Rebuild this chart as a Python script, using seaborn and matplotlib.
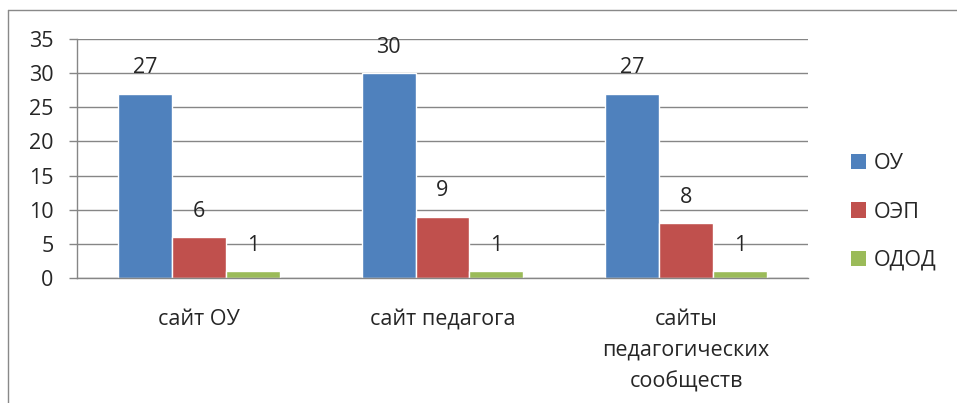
import matplotlib
matplotlib.use("Agg")
import matplotlib.pyplot as plt
import seaborn as sns
import pandas as pd
from matplotlib.patches import Rectangle
from matplotlib.lines import Line2D

categories = ["сайт ОУ", "сайт педагога", "сайты\nпедагогических\nсообществ"]
series = ["ОУ", "ОЭП", "ОДОД"]
values_ou = [27, 30, 27]
values_oep = [6, 9, 8]
values_odod = [1, 1, 1]
colors = ["#4F81BD", "#C0504D", "#9BBB59"]
yticks = [0, 5, 10, 15, 20, 25, 30, 35]

rows = []
for s, vals in zip(series, [values_ou, values_oep, values_odod]):
    for c, v in zip(categories, vals):
        rows.append({"cat": c, "series": s, "value": v})
df = pd.DataFrame(rows)

sns.set_style("white")
plt.rcParams["font.family"] = ["Open Sans", "DejaVu Sans"]

FS = 15.5
W, H = 957, 403
fig = plt.figure(figsize=(W / 100, H / 100), dpi=100)
ax = fig.add_axes([77 / W, (H - 278) / H, (808 - 77) / W, (278 - 39) / H])

sns.barplot(data=df, x="cat", y="value", hue="series", order=categories,
            hue_order=series, palette=colors, width=0.664, gap=0,
            saturation=1, ax=ax, legend=False, errorbar=None)

gray = "#868686"
ax.set_ylim(0, 35)
ax.set_xlim(-0.5, 2.5)
ax.set_yticks(yticks)
ax.set_yticklabels([str(t) for t in yticks], fontsize=FS)
ax.yaxis.grid(True, color=gray, linewidth=1)
ax.set_axisbelow(True)
ax.set_xlabel("")
ax.set_ylabel("")
ax.set_xticks(range(len(categories)))
ax.set_xticklabels(categories, fontsize=FS, linespacing=1.6, va="top")
ax.set_xticks([-0.5, 0.5, 1.5, 2.5], minor=True)
ax.tick_params(axis="x", which="major", length=0, pad=22.5)
ax.tick_params(axis="x", which="minor", length=6, width=1, color=gray, direction="out")
ax.tick_params(axis="y", length=6, width=1, color=gray, direction="out", pad=11, left=True)
for side in ["top", "right"]:
    ax.spines[side].set_visible(False)
for side in ["left", "bottom"]:
    ax.spines[side].set_visible(True)
    ax.spines[side].set_color(gray)
    ax.spines[side].set_linewidth(1)

for cont in ax.containers:
    ax.bar_label(cont, labels=[f"{int(v)}" for v in cont.datavalues],
                 padding=11, fontsize=FS)

handles = [Rectangle((0, 0), 1, 1, facecolor=c, edgecolor="none") for c in colors]
fig.legend(handles, series, loc="center left", bbox_to_anchor=(851 / W, (H - 212) / H),
           frameon=False, fontsize=FS, handlelength=0.7, handleheight=0.7,
           handletextpad=0.35, labelspacing=1.26, borderpad=0, borderaxespad=0)

# outer chart frame
fig.add_artist(Line2D([8 / W, 8 / W], [0, (H - 10) / H], color="#898989", lw=1))
fig.add_artist(Line2D([8 / W, 1], [(H - 10) / H, (H - 10) / H], color="#898989", lw=1))

fig.savefig("out.png", dpi=100)
